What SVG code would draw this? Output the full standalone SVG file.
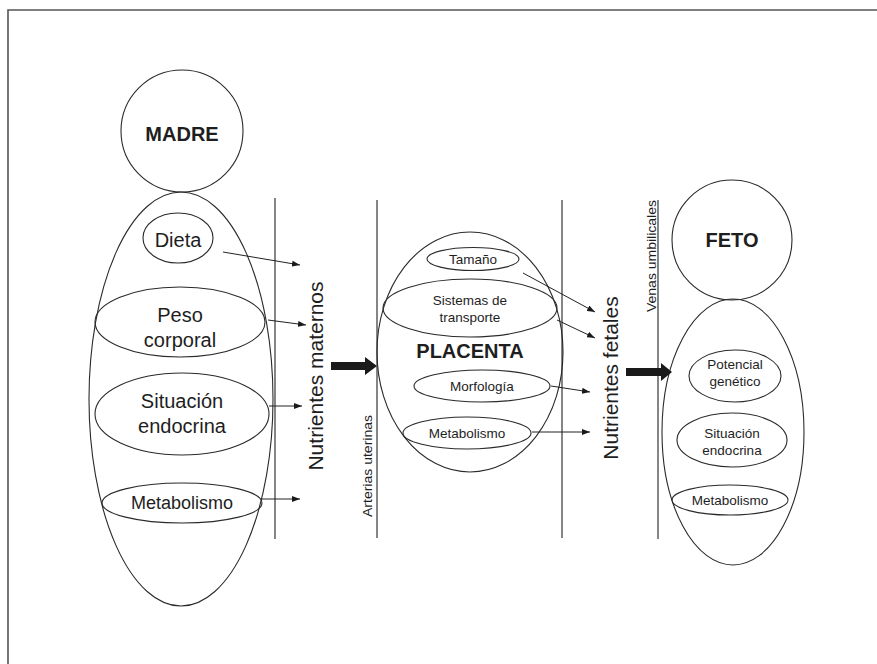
<svg xmlns="http://www.w3.org/2000/svg" width="877" height="664" viewBox="0 0 877 664">
<defs>
<style>
.sh{fill:none;stroke:#2a2a2a;stroke-width:1.1}
.ln{fill:none;stroke:#222;stroke-width:1.1}
.t{font-family:"Liberation Sans",Arial,sans-serif;fill:#1e1e1e;text-anchor:middle}
.b{font-weight:bold;font-size:20px}
.m{font-size:20px}
.s{font-size:13.5px}
.v{font-size:21px}
.vs{font-size:13px}
.con{fill:none;stroke:#222;stroke-width:1}
.thick{fill:#1a1a1a}
</style>
<marker id="ah" viewBox="0 0 8 6" refX="8" refY="3" markerWidth="8" markerHeight="6" markerUnits="userSpaceOnUse" orient="auto">
<path d="M0,0 L8,3 L0,6 Z" fill="#1a1a1a"/>
</marker>
</defs>
<rect width="877" height="664" fill="#fff"/>
<path d="M8,664 V10 H877" fill="none" stroke="#555" stroke-width="1.6"/>

<g id="madre">
<circle class="sh" cx="182" cy="131" r="61"/>
<text class="t b" x="182" y="141">MADRE</text>
</g>
<g id="madre-cuerpo">
<ellipse class="sh" cx="181" cy="399" rx="92" ry="207"/>
</g>
<g id="dieta">
<ellipse class="sh" cx="178" cy="238" rx="35" ry="25"/>
<text class="t m" x="178" y="247">Dieta</text>
</g>
<g id="peso">
<ellipse class="sh" cx="180" cy="322" rx="85" ry="35"/>
<text class="t m" x="180" y="322">Peso</text>
<text class="t m" x="180" y="347">corporal</text>
</g>
<g id="situacion-madre">
<ellipse class="sh" cx="182" cy="414" rx="87" ry="41"/>
<text class="t m" x="182" y="408">Situación</text>
<text class="t m" x="182" y="433">endocrina</text>
</g>
<g id="metabolismo-madre">
<ellipse class="sh" cx="182" cy="503" rx="80" ry="20"/>
<text class="t" x="182" y="509" font-size="18">Metabolismo</text>
</g>

<g id="barrera-1">
<line class="ln" x1="275" y1="198" x2="275" y2="539"/>
<text class="t v" transform="translate(323,376) rotate(-90)">Nutrientes maternos</text>
</g>
<g id="barrera-2">
<line class="ln" x1="377" y1="200" x2="377" y2="538"/>
<text class="t vs" transform="translate(372,466) rotate(-90)" textLength="102" lengthAdjust="spacingAndGlyphs">Arterias uterinas</text>
</g>

<g id="placenta">
<ellipse class="sh" cx="470" cy="352" rx="93" ry="120"/>
<text class="t b" x="470" y="358">PLACENTA</text>
</g>
<g id="tamano">
<ellipse class="sh" cx="473" cy="259" rx="46" ry="11.5"/>
<text class="t s" x="473" y="264">Tamaño</text>
</g>
<g id="sistemas">
<ellipse class="sh" cx="470" cy="308" rx="87" ry="29"/>
<text class="t s" x="470" y="305">Sistemas de</text>
<text class="t s" x="470" y="322">transporte</text>
</g>
<g id="morfologia">
<ellipse class="sh" cx="482" cy="386" rx="68" ry="16"/>
<text class="t s" x="482" y="391">Morfología</text>
</g>
<g id="metabolismo-placenta">
<ellipse class="sh" cx="467" cy="433" rx="64" ry="16"/>
<text class="t s" x="467" y="438">Metabolismo</text>
</g>

<g id="barrera-3">
<line class="ln" x1="562" y1="200" x2="562" y2="538"/>
<text class="t v" transform="translate(618,378) rotate(-90)">Nutrientes fetales</text>
</g>
<g id="barrera-4">
<line class="ln" x1="658" y1="200" x2="658" y2="539"/>
<text class="t vs" transform="translate(656,256) rotate(-90)" textLength="112" lengthAdjust="spacingAndGlyphs">Venas umbilicales</text>
</g>

<g id="feto">
<circle class="sh" cx="732" cy="240" r="60"/>
<text class="t b" x="732" y="247">FETO</text>
</g>
<g id="feto-cuerpo">
<ellipse class="sh" cx="733" cy="432" rx="71" ry="133"/>
</g>
<g id="potencial">
<ellipse class="sh" cx="735" cy="376" rx="46" ry="26"/>
<text class="t s" x="735" y="369">Potencial</text>
<text class="t s" x="735" y="386">genético</text>
</g>
<g id="situacion-feto">
<ellipse class="sh" cx="732" cy="440" rx="55" ry="27"/>
<text class="t s" x="732" y="438">Situación</text>
<text class="t s" x="732" y="455">endocrina</text>
</g>
<g id="metabolismo-feto">
<ellipse class="sh" cx="730" cy="500" rx="58" ry="15"/>
<text class="t s" x="730" y="505">Metabolismo</text>
</g>

<g id="connectors">
<line class="con" x1="223" y1="252" x2="300" y2="265" marker-end="url(#ah)"/>
<line class="con" x1="268" y1="320" x2="306" y2="325" marker-end="url(#ah)"/>
<line class="con" x1="269" y1="406" x2="302" y2="406" marker-end="url(#ah)"/>
<line class="con" x1="262" y1="499" x2="300" y2="499" marker-end="url(#ah)"/>
<path class="thick" d="M331,362 H365 V357 L377,366 L365,375 V370 H331 Z"/>
<line class="con" x1="523" y1="273" x2="595" y2="312" marker-end="url(#ah)"/>
<line class="con" x1="557" y1="320" x2="595" y2="338" marker-end="url(#ah)"/>
<line class="con" x1="551" y1="386" x2="590" y2="392" marker-end="url(#ah)"/>
<line class="con" x1="532" y1="432" x2="590" y2="432" marker-end="url(#ah)"/>
<path class="thick" d="M626,368 H661 V363 L672,372 L661,381 V376 H626 Z"/>
</g>
</svg>
